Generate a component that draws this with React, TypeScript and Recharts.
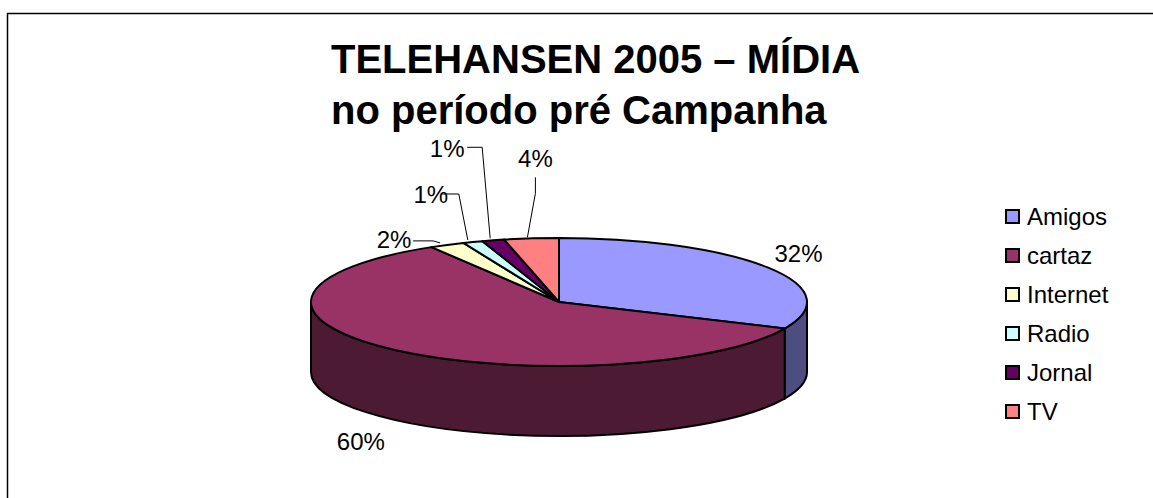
import { Legend, Pie, PieChart } from 'recharts';

const categories = ['Amigos', 'cartaz', 'Internet', 'Radio', 'Jornal', 'TV'];
const shares = [31.8, 59.6, 2.3, 1.3, 1.45, 3.55];
const topColors = ['#9999FF', '#993366', '#FFFFCC', '#CCFFFF', '#660066', '#FF8080'];
const wallColors = ['#4D4D80', '#4D1A33', '#808066', '#668080', '#330033', '#804040'];

const chartData = categories.map((name, i) => ({
  name,
  value: shares[i],
  fill: topColors[i],
  wall: wallColors[i],
}));

const WIDTH = 1153;
const HEIGHT = 498;
const FONT = '"Liberation Sans", Arial, sans-serif';
const SQUASH = 64 / 248;
const DEPTH = 70;

// text centre and leader elbows, relative to the rim point of each slice
const labelLayout = [
  { dx: 31, dy: -14, leader: [] as number[][] },
  { dx: -33, dy: 92, leader: [] as number[][] },
  { dx: -53, dy: -5, leader: [[-34, -4], [-14, -4], [-7, -2]] },
  { dx: -42, dy: -47, leader: [[-31, -48], [-14, -48], [-5, -2]] },
  { dx: -46, dy: -92, leader: [[-26, -93], [-11, -93], [-3, -2]] },
  { dx: 4, dy: -80, leader: [[4, -61], [4, -45], [-4, -1]] },
];

const rad = (deg: number) => (deg * Math.PI) / 180;

const rimPoint = (cx: number, cy: number, r: number, angle: number) => ({
  x: cx + r * Math.cos(rad(angle)),
  y: cy - r * SQUASH * Math.sin(rad(angle)),
});

const Slice3D = (props: any) => {
  const { cx, cy, outerRadius: r, startAngle, endAngle, fill } = props;
  const wall = props.wall ?? props.payload?.wall;
  const ry = r * SQUASH;
  const a = rimPoint(cx, cy, r, startAngle);
  const b = rimPoint(cx, cy, r, endAngle);
  const large = Math.abs(startAngle - endAngle) > 180 ? 1 : 0;

  // only the part of the rim facing the viewer gets a wall
  const wallStart = Math.min(startAngle, 0);
  const wallEnd = Math.max(endAngle, -180);
  let wallPath = '';
  if (wallStart > wallEnd) {
    const p = rimPoint(cx, cy, r, wallStart);
    const q = rimPoint(cx, cy, r, wallEnd);
    wallPath =
      `M${p.x},${p.y} A${r},${ry} 0 0 1 ${q.x},${q.y} L${q.x},${q.y + DEPTH} ` +
      `A${r},${ry} 0 0 0 ${p.x},${p.y + DEPTH} Z`;
  }

  return (
    <g>
      {wallPath && <path d={wallPath} fill={wall} stroke="#000" strokeWidth={2} />}
      <path
        d={`M${cx},${cy} L${a.x},${a.y} A${r},${ry} 0 ${large} 1 ${b.x},${b.y} Z`}
        fill={fill}
        stroke="#000"
        strokeWidth={2}
        strokeLinejoin="round"
      />
    </g>
  );
};

const SliceLabel = (props: any) => {
  const { cx, cy, outerRadius, midAngle, percent, index } = props;
  const rim = rimPoint(cx, cy, outerRadius, midAngle);
  const layout = labelLayout[index];
  return (
    <g>
      {layout.leader.length > 0 && (
        <polyline
          points={layout.leader.map(([x, y]) => `${rim.x + x},${rim.y + y}`).join(' ')}
          fill="none"
          stroke="#000"
          strokeWidth={1}
        />
      )}
      <text
        x={rim.x + layout.dx}
        y={rim.y + layout.dy}
        textAnchor="middle"
        dominantBaseline="central"
        fontFamily={FONT}
        fontSize={24}
        fill="#000"
      >
        {`${Math.round(percent * 100)}%`}
      </text>
    </g>
  );
};

const LegendList = ({ payload }: any) => (
  <div style={{ fontFamily: FONT, fontSize: 24, color: '#000' }}>
    {(payload ?? []).map((entry: any) => (
      <div key={entry.value} style={{ display: 'flex', alignItems: 'center', height: 39 }}>
        <span
          style={{
            width: 11,
            height: 11,
            marginRight: 7,
            background: entry.color,
            border: '2px solid #000',
          }}
        />
        {entry.value}
      </div>
    ))}
  </div>
);

export default function App() {
  return (
    <div style={{ position: 'absolute', left: 0, top: 0, width: WIDTH, height: HEIGHT, overflow: 'hidden' }}>
      <PieChart width={WIDTH} height={HEIGHT} margin={{ top: 0, right: 0, bottom: 0, left: 0 }}>
        <line x1={7} y1={13.5} x2={WIDTH} y2={13.5} stroke="#000" strokeWidth={1.5} />
        <line x1={7.5} y1={13} x2={7.5} y2={HEIGHT} stroke="#000" strokeWidth={1.5} />
        <text fontFamily={FONT} fontSize={40} fontWeight="bold" fill="#000">
          <tspan x={331} y={73}>TELEHANSEN 2005 – MÍDIA</tspan>
          <tspan x={331} y={124}>no período pré Campanha</tspan>
        </text>
        <Pie
          data={chartData}
          dataKey="value"
          nameKey="name"
          cx={559}
          cy={302}
          innerRadius={0}
          outerRadius={248}
          startAngle={90}
          endAngle={-270}
          stroke="#000"
          shape={Slice3D}
          label={SliceLabel}
          labelLine={false}
          isAnimationActive={false}
        />
        <Legend
          layout="vertical"
          align="right"
          verticalAlign="top"
          itemSorter={null}
          content={LegendList}
          wrapperStyle={{ position: 'absolute', left: 1005, top: 197, width: 140 }}
        />
      </PieChart>
    </div>
  );
}
